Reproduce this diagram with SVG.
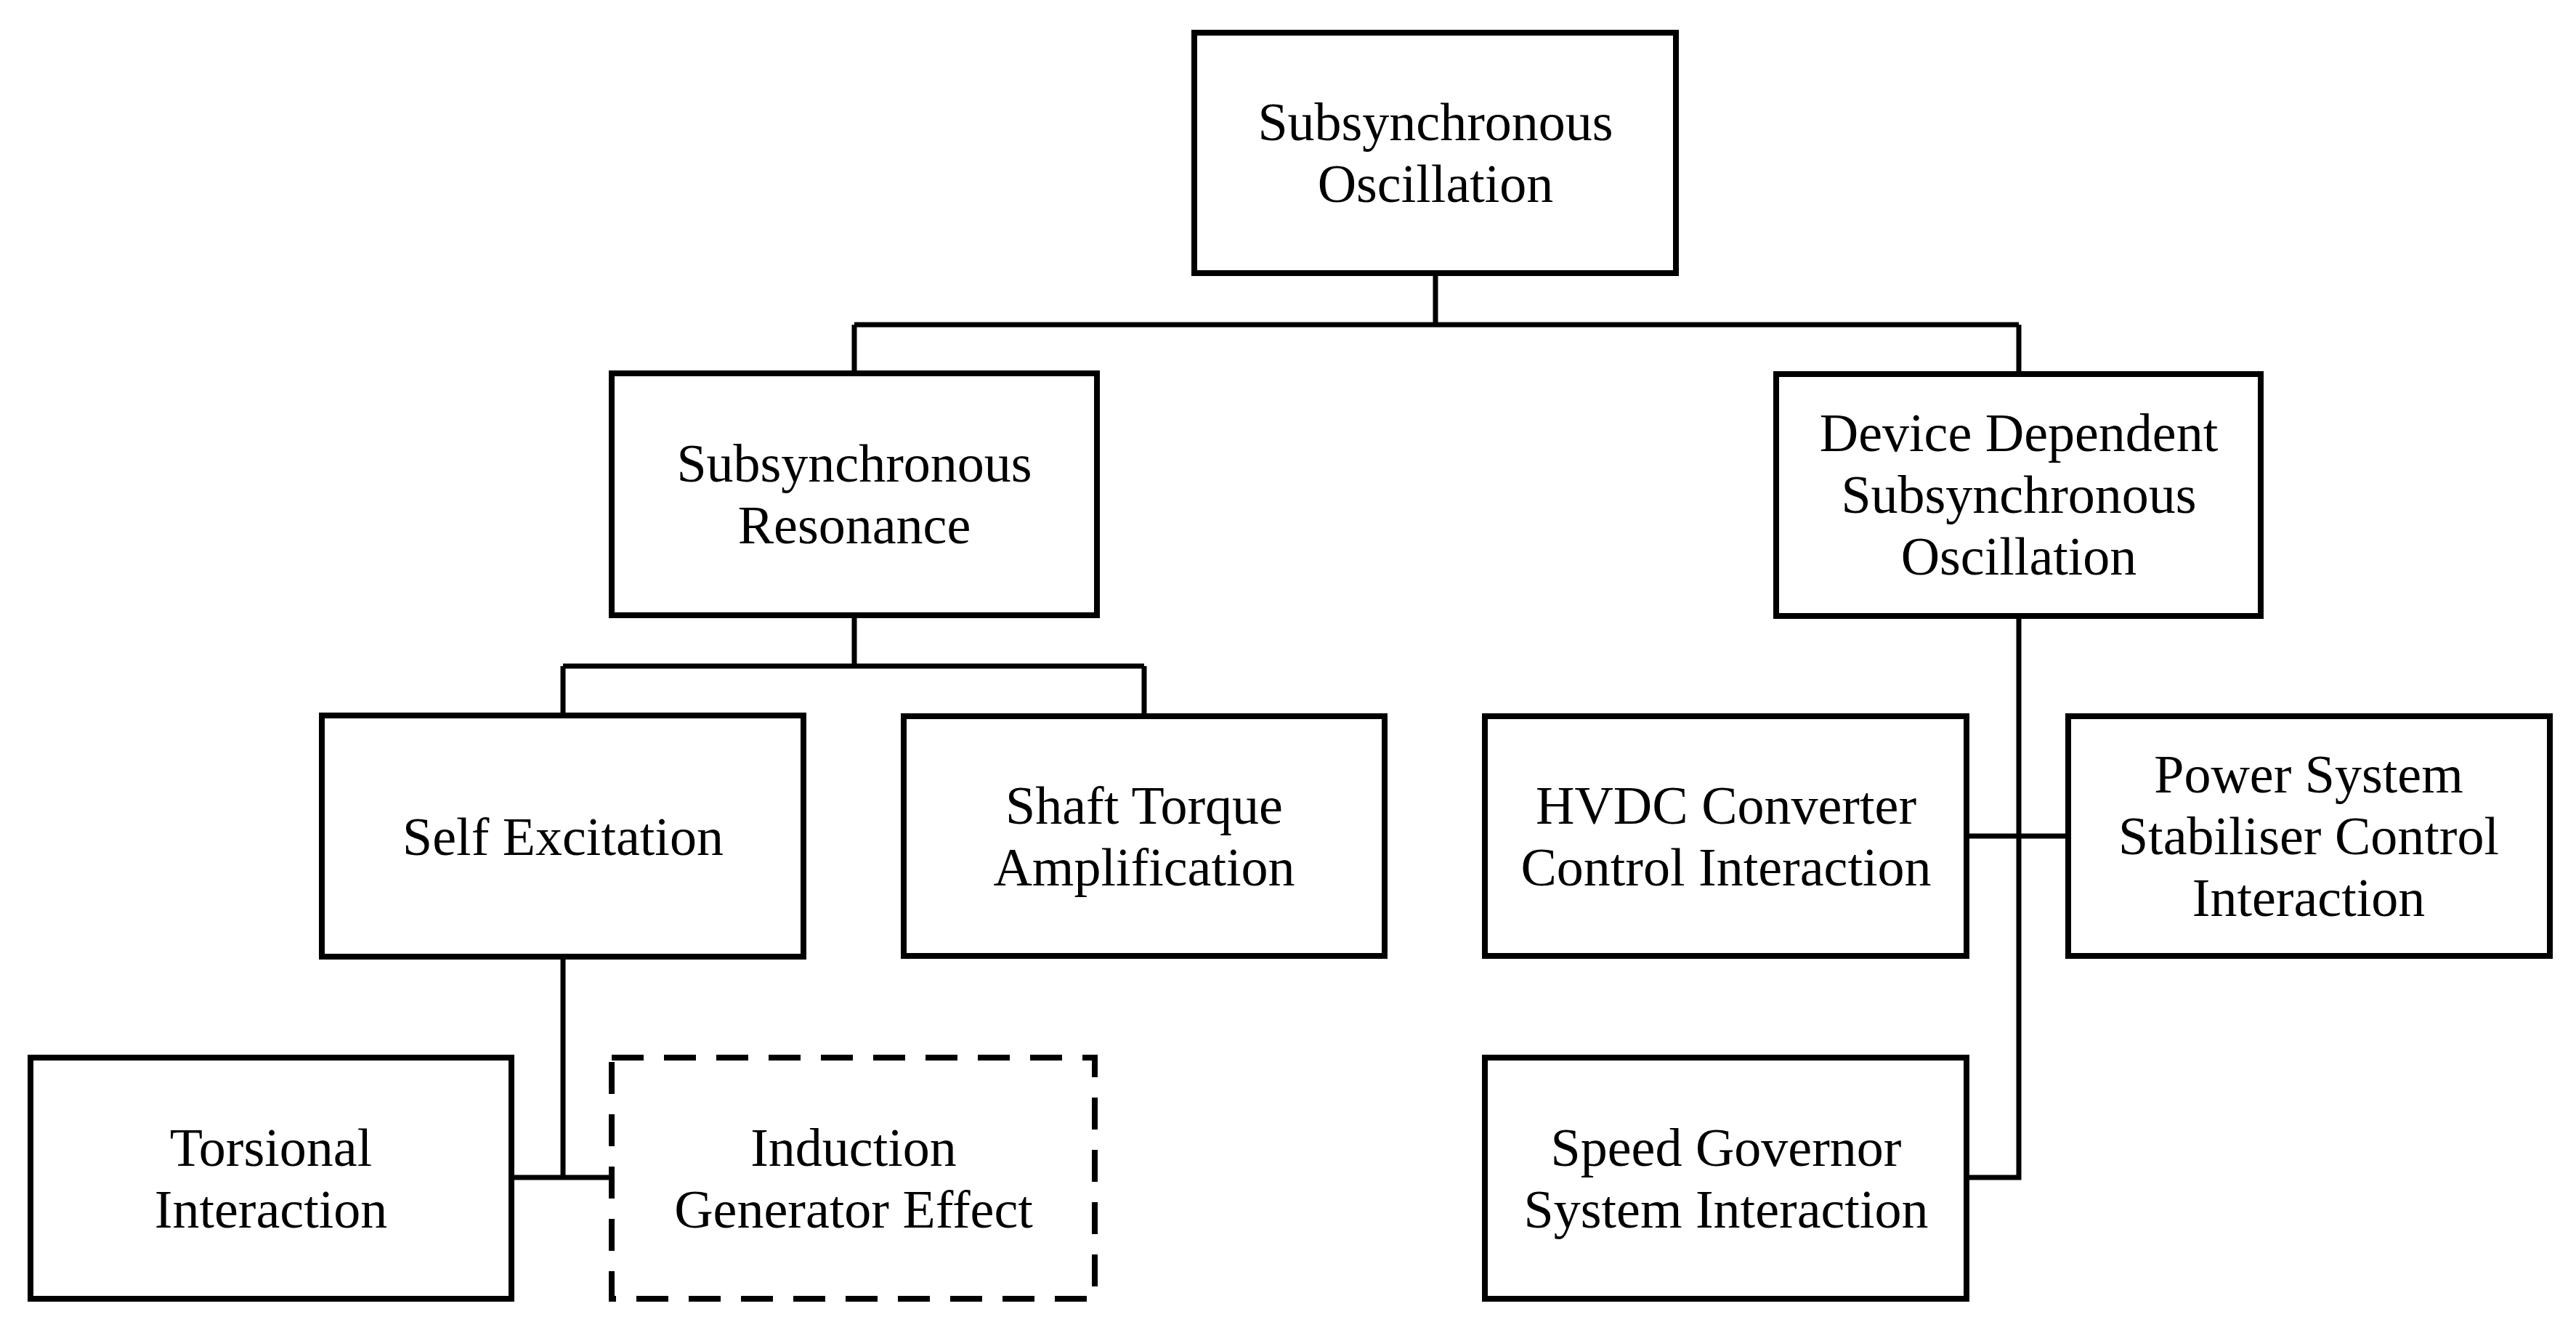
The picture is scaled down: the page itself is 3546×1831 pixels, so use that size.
<svg xmlns="http://www.w3.org/2000/svg" width="3546" height="1831" viewBox="0 0 3546 1831">
<style>
.b{fill:#fff;stroke:#000;stroke-width:8}
.d{fill:#fff;stroke:#000;stroke-width:8;stroke-dasharray:44 28}
.c{fill:none;stroke:#000;stroke-width:7}
text{font-family:"Liberation Serif","Times New Roman",serif;font-size:74px;text-anchor:middle;fill:#000}
</style>
<rect width="3546" height="1831" fill="#fff"/>
<g id="connectors">
<path class="c" d="M1976 376V447M1176 447H2779M1176 447V514M2779 447V514"/>
<path class="c" d="M1176 847V917M775 917H1575M775 917V985M1575 917V985"/>
<path class="c" d="M775 1317V1621M704 1621H842"/>
<path class="c" d="M2779 848V1621H2707M2707 1151H2847"/>
</g>
<g id="n1"><rect class="b" x="1644" y="45" width="663" height="331"/><text x="1976" y="193">Subsynchronous</text><text x="1976" y="278">Oscillation</text></g>
<g id="n2"><rect class="b" x="842" y="514" width="668" height="333"/><text x="1176" y="663">Subsynchronous</text><text x="1176" y="748">Resonance</text></g>
<g id="n3"><rect class="b" x="2445" y="515" width="667" height="333"/><text x="2779" y="621">Device Dependent</text><text x="2779" y="706">Subsynchronous</text><text x="2779" y="791">Oscillation</text></g>
<g id="n4"><rect class="b" x="443" y="985" width="663" height="332"/><text x="775" y="1177">Self Excitation</text></g>
<g id="n5"><rect class="b" x="1244" y="986" width="662" height="330"/><text x="1575" y="1134">Shaft Torque</text><text x="1575" y="1219">Amplification</text></g>
<g id="n6"><rect class="b" x="2044" y="986" width="663" height="330"/><text x="2376" y="1134">HVDC Converter</text><text x="2376" y="1219">Control Interaction</text></g>
<g id="n7"><rect class="b" x="2847" y="986" width="663" height="330"/><text x="3178" y="1091">Power System</text><text x="3178" y="1176">Stabiliser Control</text><text x="3178" y="1261">Interaction</text></g>
<g id="n8"><rect class="b" x="42" y="1456" width="662" height="332"/><text x="373" y="1605">Torsional</text><text x="373" y="1690">Interaction</text></g>
<g id="n9"><rect class="d" x="842" y="1456" width="665" height="332"/><text x="1175" y="1605">Induction</text><text x="1175" y="1690">Generator Effect</text></g>
<g id="n10"><rect class="b" x="2044" y="1456" width="663" height="332"/><text x="2376" y="1605">Speed Governor</text><text x="2376" y="1690">System Interaction</text></g>
</svg>
